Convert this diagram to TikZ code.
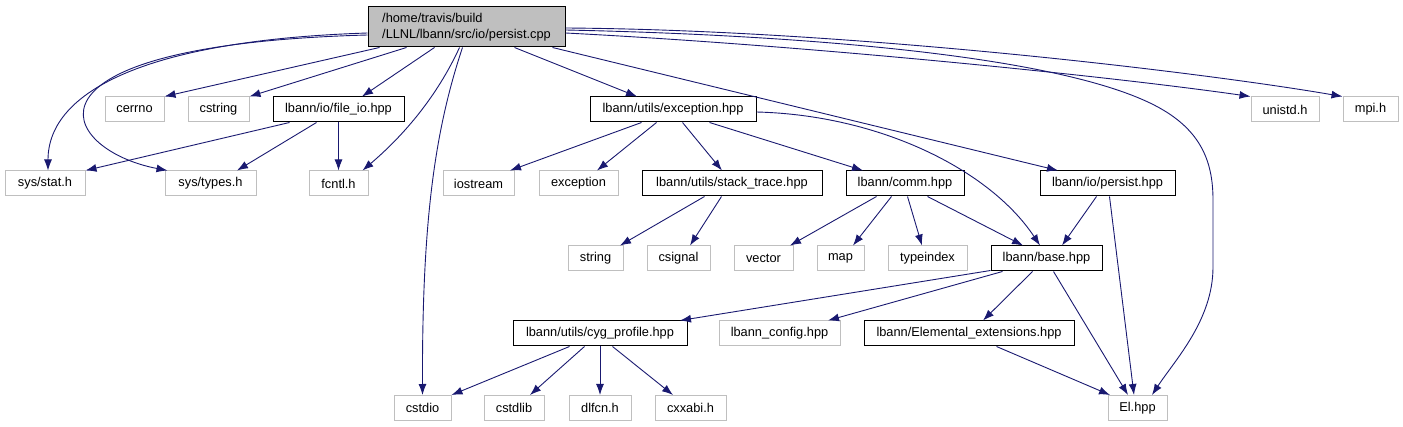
\documentclass[tikz,border=0pt]{standalone}
\usepackage{fontspec}
\setmainfont{Liberation Sans}
\usetikzlibrary{arrows.meta}
\definecolor{edgecol}{HTML}{191970}
\definecolor{gborder}{HTML}{BFBFBF}
\definecolor{rootfill}{HTML}{BFBFBF}
\begin{document}
\begin{tikzpicture}[x=1pt,y=-1pt,
  nbox/.style={line width=1pt, inner sep=0pt, minimum height=25pt, font=\fontsize{12.8}{16}\selectfont, text=black},
  gbox/.style={nbox, draw=gborder},
  bbox/.style={nbox, draw=black},
  arr/.style={draw=edgecol, line width=0.9pt, -{Latex[length=11pt,width=8pt]}},
]
\useasboundingbox (0,0) rectangle (1403,427);
% root
\node[bbox, fill=rootfill, minimum width=197pt, minimum height=40pt, align=left] (root) at (466.5,27) {/home/travis/build\\/LLNL/lbann/src/io/persist.cpp};
% row 1
\node[gbox, minimum width=59pt] (cerrno) at (134.5,109.5) {cerrno};
\node[gbox, minimum width=61pt] (cstring) at (218.5,109.5) {cstring};
\node[bbox, minimum width=131pt] (fileio) at (338.5,109.5) {lbann/io/file\_io.hpp};
\node[bbox, minimum width=166pt] (exc) at (673,109.5) {lbann/utils/exception.hpp};
\node[gbox, minimum width=68pt] (unistd) at (1285,109.5) {unistd.h};
\node[gbox, minimum width=55pt] (mpi) at (1370.5,109.5) {mpi.h};
% row 2
\node[gbox, minimum width=80pt] (sysstat) at (45,183.5) {sys/stat.h};
\node[gbox, minimum width=91pt] (systypes) at (210.5,183.5) {sys/types.h};
\node[gbox, minimum width=59pt] (fcntl) at (338.5,183.5) {fcntl.h};
\node[gbox, minimum width=71pt] (iostream) at (478.5,183.5) {iostream};
\node[gbox, minimum width=79pt] (exception) at (578.5,183.5) {exception};
\node[bbox, minimum width=180pt] (stack) at (732,183.5) {lbann/utils/stack\_trace.hpp};
\node[bbox, minimum width=118pt] (comm) at (905,183.5) {lbann/comm.hpp};
\node[bbox, minimum width=135pt] (persist) at (1107.5,183.5) {lbann/io/persist.hpp};
% row 3
\node[gbox, minimum width=55pt] (string) at (595.5,258.5) {string};
\node[gbox, minimum width=63pt] (csignal) at (678.5,258.5) {csignal};
\node[gbox, minimum width=59pt] (vector) at (763.5,258.5) {vector};
\node[gbox, minimum width=47pt] (map) at (840.5,258.5) {map};
\node[gbox, minimum width=79pt] (typeindex) at (927.5,258.5) {typeindex};
\node[bbox, minimum width=111pt] (base) at (1046.5,258.5) {lbann/base.hpp};
% row 4
\node[bbox, minimum width=174pt] (cyg) at (600,333.5) {lbann/utils/cyg\_profile.hpp};
\node[gbox, minimum width=121pt] (config) at (779.5,333.5) {lbann\_config.hpp};
\node[bbox, minimum width=210pt] (elem) at (969,333.5) {lbann/Elemental\_extensions.hpp};
% row 5
\node[gbox, minimum width=57pt] (cstdio) at (422.5,408) {cstdio};
\node[gbox, minimum width=60pt] (cstdlib) at (514,408) {cstdlib};
\node[gbox, minimum width=62pt] (dlfcn) at (600,408) {dlfcn.h};
\node[gbox, minimum width=71pt] (cxxabi) at (690.5,408) {cxxabi.h};
\node[gbox, minimum width=59pt] (El) at (1137.5,408) {El.hpp};

% edges from root
\draw[arr] ([xshift=12pt]root.south west) -- (cerrno.north east);
\draw[arr] ([xshift=39pt]root.south west) -- (cstring.north east);
\draw[arr] ([xshift=67pt]root.south west) -- ([xshift=23.5pt]fileio.north);
\draw[arr] ([yshift=-6pt]root.west) .. controls (150,40) and (48,90) .. ([xshift=3pt]sysstat.north);
\draw[arr] ([yshift=-8pt]root.west) .. controls (0,45) and (60,150) .. ([xshift=-43pt]systypes.north);
\draw[arr] ([xshift=92pt]root.south west) .. controls (440,90) and (410,130) .. ([xshift=24pt]fcntl.north);
\draw[arr] ([xshift=95pt]root.south west) .. controls (435,130) and (422,220) .. (cstdio.north);
\draw[arr] ([xshift=147pt]root.south west) -- ([xshift=-36pt]exc.north);
\draw[arr] ([xshift=185pt]root.south west) -- ([xshift=-49.5pt]persist.north);
\draw[arr] ([yshift=-6pt]root.east) .. controls (800,45) and (1100,75) .. (unistd.north west);
\draw[arr] ([yshift=-1pt]root.east) .. controls (850,30) and (1200,72) .. (mpi.north west);
\draw[arr] ([yshift=-3pt]root.east) .. controls (800,35) and (1050,55) .. (1150,103)
  .. controls (1200,127) and (1213,160) .. (1213,200) -- (1213,267)
  .. controls (1213,320) and (1175,360) .. ([xshift=14.5pt]El.north);
% file_io
\draw[arr] ([xshift=17pt]fileio.south west) -- (sysstat.north east);
\draw[arr] ([xshift=44pt]fileio.south west) -- ([xshift=26.5pt]systypes.north);
\draw[arr] (fileio.south) -- (fcntl.north);
% exception.hpp
\draw[arr] ([xshift=52pt]exc.south west) -- ([xshift=31.5pt]iostream.north);
\draw[arr] ([xshift=67pt]exc.south west) -- ([xshift=18.5pt]exception.north);
\draw[arr] ([xshift=93pt]exc.south west) -- ([xshift=-10pt]stack.north);
\draw[arr] ([xshift=120pt]exc.south west) -- ([xshift=-42pt]comm.north);
\draw[arr] ([yshift=-2.5pt]exc.east) .. controls (880,115) and (990,170) .. ([xshift=-6.5pt]base.north);
% stack_trace
\draw[arr] ([xshift=63pt]stack.south west) -- ([xshift=24.5pt]string.north);
\draw[arr] ([xshift=80pt]stack.south west) -- ([xshift=11.5pt]csignal.north);
% comm
\draw[arr] ([xshift=31pt]comm.south west) -- ([xshift=26.5pt]vector.north);
\draw[arr] ([xshift=46pt]comm.south west) -- ([xshift=12.5pt]map.north);
\draw[arr] ([xshift=62pt]comm.south west) -- ([xshift=-5.5pt]typeindex.north);
\draw[arr] ([xshift=82pt]comm.south west) -- ([xshift=-23.5pt]base.north);
% persist
\draw[arr] ([xshift=57pt]persist.south west) -- ([xshift=15.5pt]base.north);
\draw[arr] ([xshift=70pt]persist.south west) -- ([xshift=-3.5pt]El.north);
% base
\draw[arr] ([yshift=1pt]base.south west) -- ([xshift=80pt]cyg.north);
\draw[arr] ([xshift=12pt]base.south west) -- ([xshift=48.5pt]config.north);
\draw[arr] ([xshift=42pt]base.south west) -- ([xshift=14pt]elem.north);
\draw[arr] ([xshift=63pt]base.south west) -- ([xshift=-9.5pt]El.north);
% elemental
\draw[arr] ([xshift=133pt]elem.south west) -- ([xshift=-27.5pt]El.north);
% cyg_profile
\draw[arr] ([xshift=57pt]cyg.south west) -- (cstdio.north east);
\draw[arr] ([xshift=72pt]cyg.south west) -- ([xshift=16pt]cstdlib.north);
\draw[arr] (cyg.south) -- (dlfcn.north);
\draw[arr] ([xshift=100pt]cyg.south west) -- ([xshift=-17.5pt]cxxabi.north);
\end{tikzpicture}
\end{document}
